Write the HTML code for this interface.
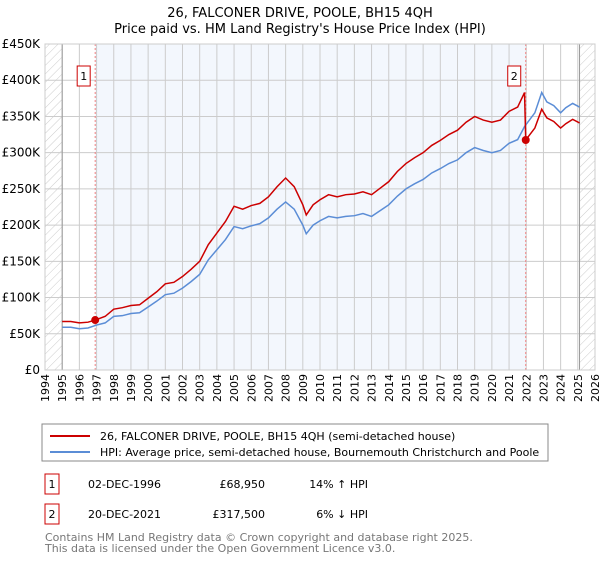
<!DOCTYPE html>
<html><head><meta charset="utf-8"><style>
body{margin:0;background:#fff;font-family:"DejaVu Sans","Liberation Sans",sans-serif;}
svg text{font-family:"DejaVu Sans","Liberation Sans",sans-serif;}
</style></head><body>
<svg id="c" width="600" height="560" xmlns="http://www.w3.org/2000/svg">
<defs><pattern id="hatch" width="6" height="6" patternUnits="userSpaceOnUse" patternTransform="rotate(45)"><line x1="0" y1="0" x2="0" y2="6" stroke="#ccc" stroke-width="1"/></pattern></defs>
<text x="300" y="17" text-anchor="middle" font-size="13" fill="#000">26, FALCONER DRIVE, POOLE, BH15 4QH</text>
<text x="300" y="33" text-anchor="middle" font-size="13" fill="#000">Price paid vs. HM Land Registry's House Price Index (HPI)</text>
<g id="plot"></g>
<rect x="42" y="424" width="506" height="37" fill="#fff" stroke="#888"/>
<line x1="50" y1="436" x2="90" y2="436" stroke="#cc0000" stroke-width="2"/>
<text x="100" y="440" font-size="11">26, FALCONER DRIVE, POOLE, BH15 4QH (semi-detached house)</text>
<line x1="50" y1="452" x2="90" y2="452" stroke="#5b8dd6" stroke-width="2"/>
<text x="100" y="456" font-size="11">HPI: Average price, semi-detached house, Bournemouth Christchurch and Poole</text>
<g font-size="11">
<rect x="45" y="474" width="14" height="20" fill="#fff" stroke="#cc0000"/>
<text x="52" y="488" text-anchor="middle">1</text>
<text x="88" y="488">02-DEC-1996</text><text x="265" y="488" text-anchor="end">£68,950</text><text x="368" y="488" text-anchor="end">14% ↑ HPI</text>
<rect x="45" y="504" width="14" height="20" fill="#fff" stroke="#cc0000"/>
<text x="52" y="518" text-anchor="middle">2</text>
<text x="88" y="518">20-DEC-2021</text><text x="265" y="518" text-anchor="end">£317,500</text><text x="368" y="518" text-anchor="end">6% ↓ HPI</text>
</g>
<text x="45" y="541" font-size="11" fill="#777">Contains HM Land Registry data © Crown copyright and database right 2025.</text>
<text x="45" y="552" font-size="11" fill="#777">This data is licensed under the Open Government Licence v3.0.</text>
</svg>
<script>
const yTicks=[0,50000,100000,150000,200000,250000,300000,350000,400000,450000];
const yTickLabels=["£0","£50K","£100K","£150K","£200K","£250K","£300K","£350K","£400K","£450K"];
const xYears=[1994,1995,1996,1997,1998,1999,2000,2001,2002,2003,2004,2005,2006,2007,2008,2009,2010,2011,2012,2013,2014,2015,2016,2017,2018,2019,2020,2021,2022,2023,2024,2025,2026];
const hpiDates=[1995,1995.5,1996,1996.5,1997,1997.5,1998,1998.5,1999,1999.5,2000,2000.5,2001,2001.5,2002,2002.5,2003,2003.5,2004,2004.5,2005,2005.5,2006,2006.5,2007,2007.5,2008,2008.5,2009,2009.2,2009.6,2010,2010.5,2011,2011.5,2012,2012.5,2013,2013.5,2014,2014.5,2015,2015.5,2016,2016.5,2017,2017.5,2018,2018.5,2019,2019.5,2020,2020.5,2021,2021.5,2021.9,2022.5,2022.9,2023.2,2023.6,2024,2024.3,2024.7,2025.1];
const hpiValues=[59,59,57,58,62,65,74,75,78,79,87,95,104,106,113,122,132,152,166,180,198,195,199,202,210,222,232,222,200,188,200,206,212,210,212,213,216,212,220,228,240,250,257,263,272,278,285,290,300,307,303,300,303,313,318,336,355,383,370,365,355,362,368,363];
const propDates=[1995,1995.5,1996,1996.5,1996.92,1997.5,1998,1998.5,1999,1999.5,2000,2000.5,2001,2001.5,2002,2002.5,2003,2003.5,2004,2004.5,2005,2005.5,2006,2006.5,2007,2007.5,2008,2008.5,2009,2009.2,2009.6,2010,2010.5,2011,2011.5,2012,2012.5,2013,2013.5,2014,2014.5,2015,2015.5,2016,2016.5,2017,2017.5,2018,2018.5,2019,2019.5,2020,2020.5,2021,2021.5,2021.9,2021.97,2022.5,2022.9,2023.2,2023.6,2024,2024.3,2024.7,2025.1];
const propValues=[67,67,65,66,68.95,74,84,86,89,90,99,108,119,121,129,139,150,173,189,205,226,222,227,230,239,253,265,253,228,214,228,235,242,239,242,243,246,242,251,260,274,285,293,300,310,317,325,331,342,350,345,342,345,357,363,383,317.5,334,360,348,343,334,340,346,341];
const saleDates=[1996.92,2021.97];
const saleValues=[68950,317500];
const saleLabels=["1","2"];

const X0=45,X1=595,Y0=370,Y1=44;
const xs=d=>X0+(d-1994)/(2026-1994)*(X1-X0);
const ys=v=>Y0-v/450000*(Y0-Y1);
const NS="http://www.w3.org/2000/svg";
const g=document.getElementById('plot');
function mk(t,a){const e=document.createElementNS(NS,t);for(const k in a)e.setAttribute(k,a[k]);g.appendChild(e);return e;}
let e;
e=mk('rect',{x:xs(1996.92),y:Y1,width:xs(2021.97)-xs(1996.92),height:Y0-Y1,fill:'#eef3fc',opacity:0.7});


e=mk('rect',{x:X0,y:Y1,width:xs(1995)-X0,height:Y0-Y1,fill:'url(#hatch)'});


e=mk('rect',{x:xs(2025.1),y:Y1,width:X1-xs(2025.1),height:Y0-Y1,fill:'url(#hatch)'});


xYears.forEach(y=>{
  e=mk('line',{x1:xs(y),x2:xs(y),y1:Y1,y2:Y0,stroke:'#ccc','stroke-width':1});
  
  
  e=mk('text',{x:0,y:0,'font-size':11,'text-anchor':'end',transform:`translate(${xs(y)+4},${Y0+4}) rotate(-90)`});
  e.textContent=y;
  
  
});
yTicks.forEach((v,i)=>{
  e=mk('line',{x1:X0,x2:X1,y1:ys(v),y2:ys(v),stroke:'#ccc','stroke-width':1});
  
  
  e=mk('text',{x:X0-5,y:ys(v)+4,'font-size':12,'text-anchor':'end'});
  e.textContent=yTickLabels[i];
  
  
});
[1995,2025.1].forEach(d=>{e=mk('line',{x1:xs(d),x2:xs(d),y1:Y1,y2:Y0,stroke:'#999','stroke-width':1});

});
saleDates.forEach(d=>{e=mk('line',{x1:xs(d),x2:xs(d),y1:Y1,y2:Y0,stroke:'#f08080','stroke-width':1,'stroke-dasharray':'2,2'});

});
e=mk('polyline',{points:hpiDates.map((d,i)=>xs(d)+','+ys(hpiValues[i]*1000)).join(' '),fill:'none',stroke:'#5b8dd6','stroke-width':1.5});


e=mk('polyline',{points:propDates.map((d,i)=>xs(d)+','+ys(propValues[i]*1000)).join(' '),fill:'none',stroke:'#cc0000','stroke-width':1.5});


saleDates.forEach((d,i)=>{
  e=mk('circle',{cx:xs(d),cy:ys(saleValues[i]),r:4,fill:'#cc0000'});
  
  
  e=mk('rect',{x:xs(d)-18,y:66,width:13,height:20,fill:'#fff',stroke:'#cc0000'});
  
  
  e=mk('text',{x:xs(d)-11.5,y:80,'font-size':11,'text-anchor':'middle'});
  e.textContent=saleLabels[i];
  
  
});
e=mk('rect',{x:X0,y:Y1,width:X1-X0,height:Y0-Y1,fill:'none',stroke:'#ccc'});


</script>
</body></html>
